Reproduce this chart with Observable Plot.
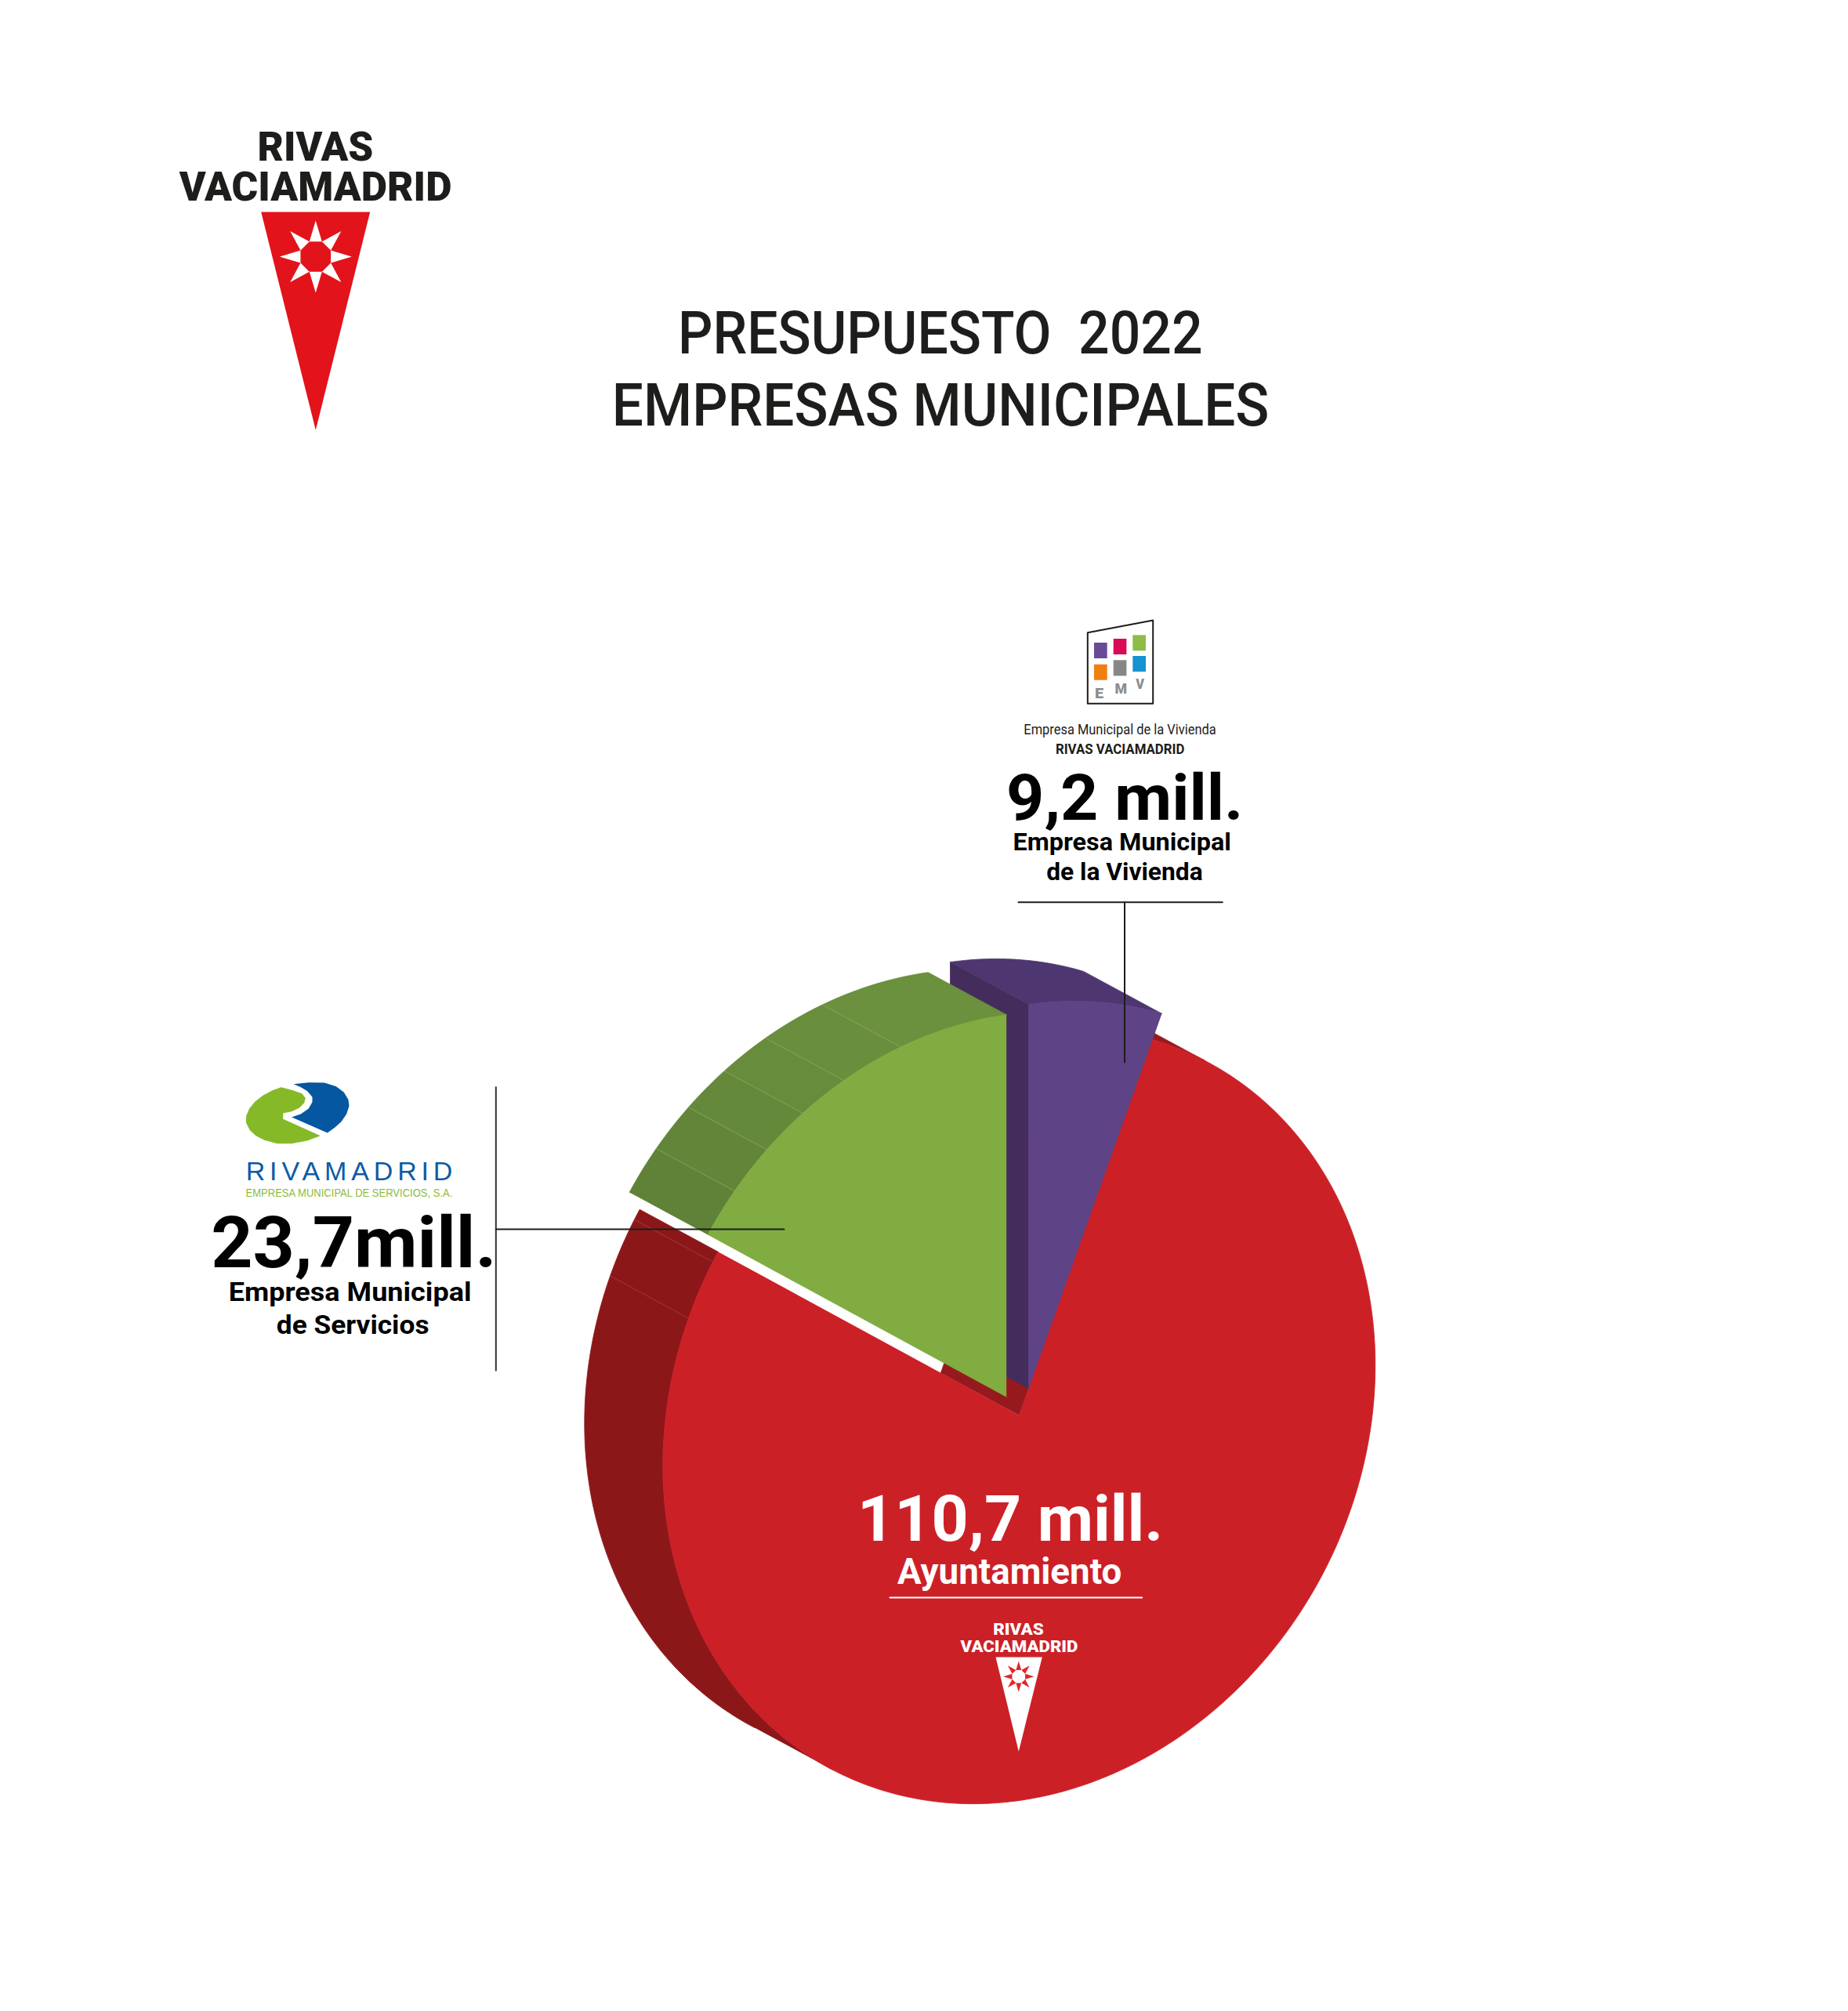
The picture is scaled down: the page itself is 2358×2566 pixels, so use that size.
<!DOCTYPE html>
<html lang="es">
<head>
<meta charset="utf-8">
<title>Presupuesto 2022 Empresas Municipales</title>
<script src="https://cdn.jsdelivr.net/npm/d3@7"></script>
<script src="https://cdn.jsdelivr.net/npm/@observablehq/plot@0.6"></script>
<style>
  html, body { margin: 0; padding: 0; background: #fff; }
  svg { display: block; }
</style>
</head>
<body>
<div id="chart"></div>
<script>
// ---------- Data ----------
const entities = ["Empresa Municipal de la Vivienda", "Ayuntamiento", "Empresa Municipal de Servicios"];
const budgets  = [9.2, 110.7, 23.7];            // millions of euros
const titleLines = ["PRESUPUESTO  2022", "EMPRESAS MUNICIPALES"];
const valueLabels = ["9,2 mill.", "110,7 mill.", "23,7mill."];

// ---------- Projection of the tilted, extruded pie ----------
const W = 2358, H = 2566;
const faceColors  = ["#5e4386", "#cc2027", "#80ac42"];
const apexX = [1312, 1299.8, 1283.7];
const apexY = [1771.6, 1805.5, 1781.8];
const rimScale = [0.998, 1.0, 0.992];
const angleTrim = [-1.06, 1.74, 0];             // the artwork's edges differ slightly from pure proportion
const extrudeX = -100, extrudeY = -54;
const radiusX = 454.5, radiusY = 491.5, skew = 64;
const tangentAngles = [31.5, 211.5];            // where the extrusion grazes the rim

const total = d3.sum(budgets);
const cumulative = d3.cumsum(budgets).map(v => v / total * 360);
const sliceEnd = cumulative.map((a, i) => a + angleTrim[i]);
const sliceStart = [0, sliceEnd[0], sliceEnd[1]];

const rim = (i, deg) => {
  const t = deg * Math.PI / 180, r = rimScale[i];
  return [apexX[i] + r * radiusX * Math.sin(t),
          apexY[i] + r * (-skew * Math.sin(t) - radiusY * Math.cos(t))];
};
const arc = (i, a, b) => {
  const n = Math.max(2, Math.ceil(Math.abs(b - a) / 1.2));
  return d3.range(n + 1).map(k => rim(i, a + (b - a) * k / n));
};
const back = p => [p[0] + extrudeX, p[1] + extrudeY];
const sweep = (i, a, b) => { const s = arc(i, a, b); return [...s, ...s.slice().reverse().map(back)]; };
const face = i => [[apexX[i], apexY[i]], ...arc(i, sliceStart[i], sliceEnd[i])];
const wall = (i, deg) => {
  const a = [apexX[i], apexY[i]], c = rim(i, deg);
  return [a, c, back(c), back(a)];
};

const poly = (pts, fill, sw = 0.8) =>
  Plot.line(pts, {x: d => d[0], y: d => d[1], fill, stroke: fill, strokeWidth: sw});
const rule = (pts, stroke, sw) =>
  Plot.line(pts, {x: d => d[0], y: d => d[1], stroke, strokeWidth: sw});

// Green side facets and seams
const greenFacets = [302.3, 309.7, 317.3, 324.8, 332.6, 342.6, 360];
const greenShades = ["#5f8238", "#628539", "#64893b", "#678c3c", "#698e3d", "#6b903e"];
const redSeams = [300.7, 291.9];

// ---------- Logos ----------
const sun = (cx, cy, tip, fillStar, fillCore) => {
  const valley = tip * 0.455, core = tip * 0.455;
  const star = d3.range(16).map(k => {
    const t = k * Math.PI / 8, r = k % 2 ? valley : tip;
    return [cx + r * Math.sin(t), cy - r * Math.cos(t)];
  });
  const oct = d3.range(8).map(k => {
    const t = (k + 0.5) * Math.PI / 4;
    return [cx + core * Math.sin(t), cy - core * Math.cos(t)];
  });
  return [poly(star, fillStar, 0), poly(oct, fillCore, 0)];
};
const pennantBig = [[332.7, 270], [471.7, 270], [402.3, 548.3]];
const pennantSmall = [[1270, 2114], [1329.3, 2114], [1299.3, 2234.3]];

const emvOutline = [[1387.3, 806.7], [1470.7, 791], [1470.7, 897.3], [1387.3, 897.3], [1387.3, 806.7]];
const emvX = [1396, 1420.7, 1445.3, 1396, 1420.7, 1445.3];
const emvY = [820, 815, 810.3, 847.7, 842.3, 837];
const emvFill = ["#6a4a97", "#db0a55", "#8cbe46", "#ef7f10", "#878787", "#1593d0"];
const emvCell = [16.7, 20];

const toLogo = ([x, y]) => [250 + x / 3, 1340 + y / 3];
const rivaGreen = [[325,140],[290,153],[255,172],[225,195],[203,222],[191,250],[190,275],[205,305],[228,326],[260,343],[310,356],[365,356],[425,345],[475,326],[332,262],[332,240],[365,233],[395,219],[413,200],[418,182],[405,165],[370,152],[325,140]].map(toLogo);
const rivaBlue = [[372,128],[430,122],[490,123],[535,137],[565,160],[582,188],[585,212],[575,243],[555,272],[530,295],[502,315],[365,255],[400,243],[430,222],[444,197],[444,178],[425,155],[400,140],[372,128]].map(toLogo);

// ---------- Text layout: text, ink left x, baseline y, ink width, size, weight, colour, font ----------
const din = "Roboto, sans-serif", arial = "'Liberation Sans', Arial, sans-serif";
const ink = "#1d1d1b", black = "#000000", white = "#ffffff";
const textRows = [
  [titleLines[0], 869, 450.7, 663, 76, 500, ink, din],
  [titleLines[1], 785, 542.7, 832, 76, 500, ink, din],
  ["RIVAS", 330, 204, 145, 52.5, 900, ink, din],
  ["VACIAMADRID", 227.3, 255, 347.7, 52.5, 900, ink, din],
  ["E", 1397.5, 890, 10.5, 19, 900, "#8c8c8c", din],
  ["M", 1423, 884.3, 14, 19, 900, "#8c8c8c", din],
  ["V", 1448, 878.3, 12, 19, 900, "#8c8c8c", din],
  [entities[0], 1306.7, 936.7, 244.3, 18.8, 400, ink, din],
  ["RIVAS VACIAMADRID", 1347.3, 961, 163.4, 18.8, 700, ink, din],
  [valueLabels[0], 1286.7, 1045.7, 294.3, 82, 700, black, din],
  ["Empresa Municipal", 1294, 1084, 275, 31.4, 700, black, din],
  ["de la Vivienda", 1335.7, 1122.3, 197.6, 31.4, 700, black, din],
  ["RIVAMADRID", 315.7, 1505, 259.3, 34, 400, "#0d5ba6", arial, "spacing"],
  ["EMPRESA MUNICIPAL DE SERVICIOS, S.A.", 314, 1526.7, 262, 14, 400, "#8dbb3c", arial],
  [valueLabels[2], 271.7, 1616.7, 355.6, 91.4, 700, black, din],
  ["Empresa Municipal", 293.3, 1659, 305.7, 33.7, 700, black, din],
  ["de Servicios", 353.3, 1701.7, 193.4, 33.7, 700, black, din],
  [valueLabels[1], 1099.6, 1965.7, 379.4, 81.6, 700, white, din],
  [entities[1], 1144.5, 2020.4, 285.5, 45.7, 700, white, din],
  ["RIVAS", 1267.7, 2085, 63.3, 21, 900, white, din],
  ["VACIAMADRID", 1224, 2107.7, 150.3, 21, 900, white, din]
];

// Fit each run so that its inked extent, not its advance box, spans the measured width
const ctx = document.createElement("canvas").getContext("2d");
const fitted = textRows.map(r => {
  ctx.font = `${r[5]} ${r[4]}px ${r[7]}`;
  const m = ctx.measureText(r[0]);
  const inkL = -m.actualBoundingBoxLeft, inkR = m.actualBoundingBoxRight;
  const s = r[3] / (inkR - inkL);
  return {text: r[0], x: r[1] - inkL * s, y: r[2], length: m.width * s, adjust: r[8] || "spacingAndGlyphs",
          size: r[4], weight: r[5], color: r[6], font: r[7]};
});

// ---------- Marks ----------
const RED = 1, PURPLE = 0, GREEN = 2;
const marks = [
  // Ayuntamiento
  poly(sweep(RED, tangentAngles[1], sliceEnd[RED]), "#8c1719"),
  poly(sweep(RED, sliceStart[RED], tangentAngles[0]), "#961a1d"),
  poly(wall(RED, sliceStart[RED]), "#961a1d"),
  ...redSeams.map(a => rule([rim(RED, a), back(rim(RED, a))], "#a3474a", 0.7)),
  poly(face(RED), faceColors[RED]),
  // Empresa Municipal de la Vivienda
  poly(sweep(PURPLE, sliceStart[PURPLE], sliceEnd[PURPLE]), "#4e3770"),
  poly(wall(PURPLE, sliceStart[PURPLE]), "#442d5c"),
  poly(face(PURPLE), faceColors[PURPLE]),
  // Empresa Municipal de Servicios
  ...greenShades.map((c, k) => poly(sweep(GREEN, greenFacets[k], greenFacets[k + 1]), c)),
  ...greenFacets.slice(1, -1).map(a => rule([rim(GREEN, a), back(rim(GREEN, a))], "#8aa866", 0.7)),
  poly(face(GREEN), faceColors[GREEN]),
  // Leaders
  rule([[1299, 1150.7], [1559.3, 1150.7]], ink, 2),
  rule([[1434.5, 1150.7], [1434.5, 1355]], ink, 2),
  rule([[632.3, 1386.7], [632.3, 1748.3]], "#333333", 2),
  rule([[632.3, 1568], [1000, 1568]], ink, 2),
  rule([[1135, 2038], [1456.6, 2038]], white, 2),
  // Logos
  poly(pennantBig, "#e3131b", 0),
  ...sun(402.3, 327, 46, white, "#e3131b"),
  poly(pennantSmall, white, 0),
  ...sun(1299.3, 2138.7, 19.7, "#e2262c", white),
  rule(emvOutline, ink, 2),
  ...emvX.map((x, i) => Plot.rect([i], {
    x1: () => x, x2: () => x + emvCell[0],
    y1: () => emvY[i], y2: () => emvY[i] + emvCell[1],
    fill: emvFill[i], inset: 0
  })),
  poly(rivaGreen, "#86b928", 0),
  poly(rivaBlue, "#0457a0", 0),
  // Text
  ...fitted.map(r => Plot.text([r], {
    x: "x", y: "y", text: "text",
    fontSize: r.size, fontWeight: r.weight, fill: r.color, fontFamily: r.font,
    textAnchor: "start", lineAnchor: "bottom"
  }))
];

const chart = Plot.plot({
  width: W, height: H,
  margin: 0,
  x: {domain: [0, W], range: [0, W], axis: null},
  y: {domain: [0, H], range: [0, H], axis: null},
  style: {background: "#ffffff"},
  marks
});

chart.querySelectorAll("text").forEach((node, i) => {
  node.setAttribute("textLength", fitted[i].length);
  node.setAttribute("lengthAdjust", fitted[i].adjust);
  node.style.whiteSpace = "pre";
});
document.getElementById("chart").append(chart);
</script>
</body>
</html>
